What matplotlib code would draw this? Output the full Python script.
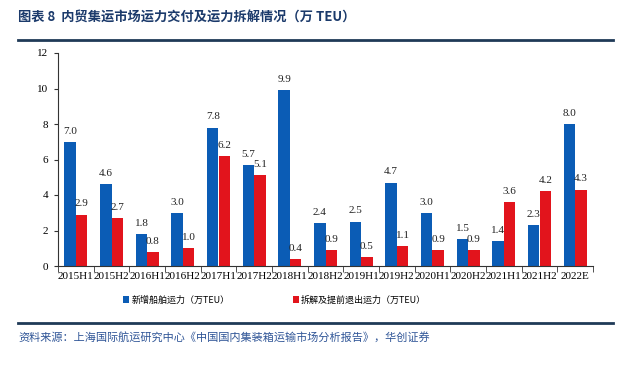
import matplotlib
matplotlib.use("Agg")
import matplotlib.pyplot as plt
import numpy as np
from matplotlib.lines import Line2D
from matplotlib.patches import Patch

categories = ["2015H1","2015H2","2016H1","2016H2","2017H1","2017H2","2018H1",
              "2018H2","2019H1","2019H2","2020H1","2020H2","2021H1","2021H2","2022E"]
new_capacity = [7.0,4.6,1.8,3.0,7.8,5.7,9.9,2.4,2.5,4.7,3.0,1.5,1.4,2.3,8.0]
scrap_capacity = [2.9,2.7,0.8,1.0,6.2,5.1,0.4,0.9,0.5,1.1,0.9,0.9,3.6,4.2,4.3]
series_names = ["新增船舶运力（万TEU）", "拆解及提前退出运力（万TEU）"]
yticks = [0, 2, 4, 6, 8, 10, 12]

title = "图表 8  内贸集运市场运力交付及运力拆解情况（万 TEU）"
source = "资料来源：上海国际航运研究中心《中国国内集装箱运输市场分析报告》，华创证券"

BLUE = "#0B5CB5"
RED = "#E2141C"
NAVY = "#1B3A6B"
serif = ["Liberation Serif", "Noto Sans CJK SC"]
cjk = ["Noto Sans CJK SC", "DejaVu Sans"]

fig = plt.figure(figsize=(6.28, 3.67), dpi=100)
ax = fig.add_axes([58/628, 1-266/367, (593-58)/628, (266-53)/367])

x = np.arange(len(categories))
w = 0.32
ax.bar(x - w/2, new_capacity, width=w, color=BLUE, zorder=2)
ax.bar(x + w/2, scrap_capacity, width=w, color=RED, zorder=2)

for xi, v in zip(x, new_capacity):
    ax.text(xi - w/2, v + 0.35, f"{v:.1f}", ha="center", va="bottom",
            fontsize=8, family=serif, color="#222222")
for xi, v in zip(x, scrap_capacity):
    ax.text(xi + w/2, v + 0.35, f"{v:.1f}", ha="center", va="bottom",
            fontsize=8, family=serif, color="#222222")

ax.set_xlim(-0.5, len(categories) - 0.5)
ax.set_ylim(0, 12)
ax.set_yticks(yticks)
ax.set_yticklabels([str(t) for t in yticks], family=serif, fontsize=8)
ax.set_xticks(x)
ax.set_xticklabels(categories, family=serif, fontsize=8)
ax.set_xticks(np.arange(len(categories) + 1) - 0.5, minor=True)
ax.tick_params(axis="x", which="major", length=0, pad=4)
ax.tick_params(axis="x", which="minor", length=4, color="#333333", direction="out")
ax.tick_params(axis="y", length=3, color="#333333", direction="out", pad=4)
for s in ["top", "right"]:
    ax.spines[s].set_visible(False)
for s in ["left", "bottom"]:
    ax.spines[s].set_color("#333333")
    ax.spines[s].set_linewidth(0.8)

handles = [Patch(facecolor=BLUE), Patch(facecolor=RED)]
leg = fig.legend(handles, series_names, loc="center", bbox_to_anchor=(0.437, 1-300/367),
                 ncol=2, frameon=False, prop={"family": cjk, "size": 6.5},
                 handlelength=0.7, handleheight=0.7, handletextpad=0.2, columnspacing=7)

fig.text(18/628, 1-18/367, title, family=cjk, fontsize=9.5, fontweight="bold",
         color=NAVY, ha="left", va="center")
fig.add_artist(Line2D([18/628, 613/628], [1-40/367, 1-40/367], color="#1F3A57", lw=2))
fig.add_artist(Line2D([18/628, 613/628], [1-323/367, 1-323/367], color="#1F3A57", lw=2))
fig.text(18/628, 1-337/367, source, family=cjk, fontsize=8, style="italic",
         color="#2F5597", ha="left", va="center")

fig.savefig("out.png", dpi=100)
